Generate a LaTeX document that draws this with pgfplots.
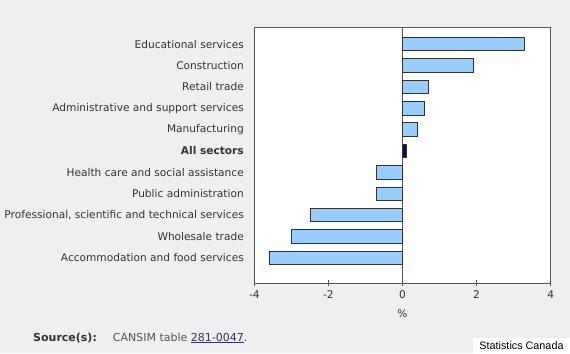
\documentclass[border=0pt]{standalone}
\usepackage{fontspec}
\setmainfont{DejaVu Sans}
\newfontfamily\arialfont{Liberation Sans}
\usepackage{pgfplots}
\pgfplotsset{compat=1.18}
\definecolor{bggray}{HTML}{EFEFEF}
\definecolor{barblue}{HTML}{99CCFF}
\definecolor{navy}{HTML}{0A0A5E}
\definecolor{txtgray}{HTML}{333333}
\definecolor{axgray}{HTML}{555555}
\definecolor{linkblue}{HTML}{333366}
\begin{document}
\begin{tikzpicture}[x=1bp,y=1bp]
\fill[bggray] (0,0) rectangle (570,353);
\begin{axis}[
  at={(254.3bp,70bp)}, anchor=south west,
  scale only axis, width=296.4bp, height=256bp,
  axis background/.style={fill=white},
  xbar, bar width=0.63, bar shift=0pt,
  xmin=-4, xmax=4, ymin=-1.18, ymax=10.8,
  xtick={-4,-2,0,2,4},
  xtick pos=bottom,
  ytick={0,...,10},
  yticklabels={Accommodation and food services, Wholesale trade, {Professional, scientific and technical services}, Public administration, Health care and social assistance, \textbf{All sectors}, Manufacturing, Administrative and support services, Retail trade, Construction, Educational services},
  axis line style={draw=axgray, line width=0.9bp},
  y tick style={draw=none},
  x tick style={draw=axgray, line width=0.9bp},
  tick align=center, major tick length=6bp,
  /pgf/number format/assume math mode=true,
  tick label style={font=\fontsize{10.6bp}{12bp}\selectfont, text=txtgray},
  yticklabel style={xshift=-4bp},
  xticklabel style={yshift=-1.5bp},
  xlabel={\%}, xlabel style={font=\fontsize{10.6bp}{12bp}\selectfont, text=txtgray, yshift=-4bp},
  clip=false,
]
\draw[axgray, line width=0.9bp] (axis cs:0,-1.18) -- (axis cs:0,10.8);
\addplot[fill=barblue, draw=txtgray, line width=0.7bp] coordinates {
 (-3.6,0) (-3.0,1) (-2.5,2) (-0.7,3) (-0.7,4) (0.4,6) (0.6,7) (0.7,8) (1.9,9) (3.3,10)};
\addplot[fill=navy, draw=txtgray, line width=0.7bp] coordinates {(0.1,5)};
\end{axis}
\node[anchor=base west, inner sep=0, font=\fontsize{11bp}{13bp}\selectfont, text=txtgray] at (33,12)
  {\textbf{Source(s):}\hspace{16bp}{\color{axgray}CANSIM table} {\color{linkblue}\underline{281-0047}}{\color{axgray}.}};
\fill[white] (473,0) rectangle (570,15);
\node[anchor=center, inner sep=0, font=\arialfont\fontsize{10.8bp}{12bp}\selectfont] at (521.5,7.5) {Statistics Canada};
\end{tikzpicture}
\end{document}
